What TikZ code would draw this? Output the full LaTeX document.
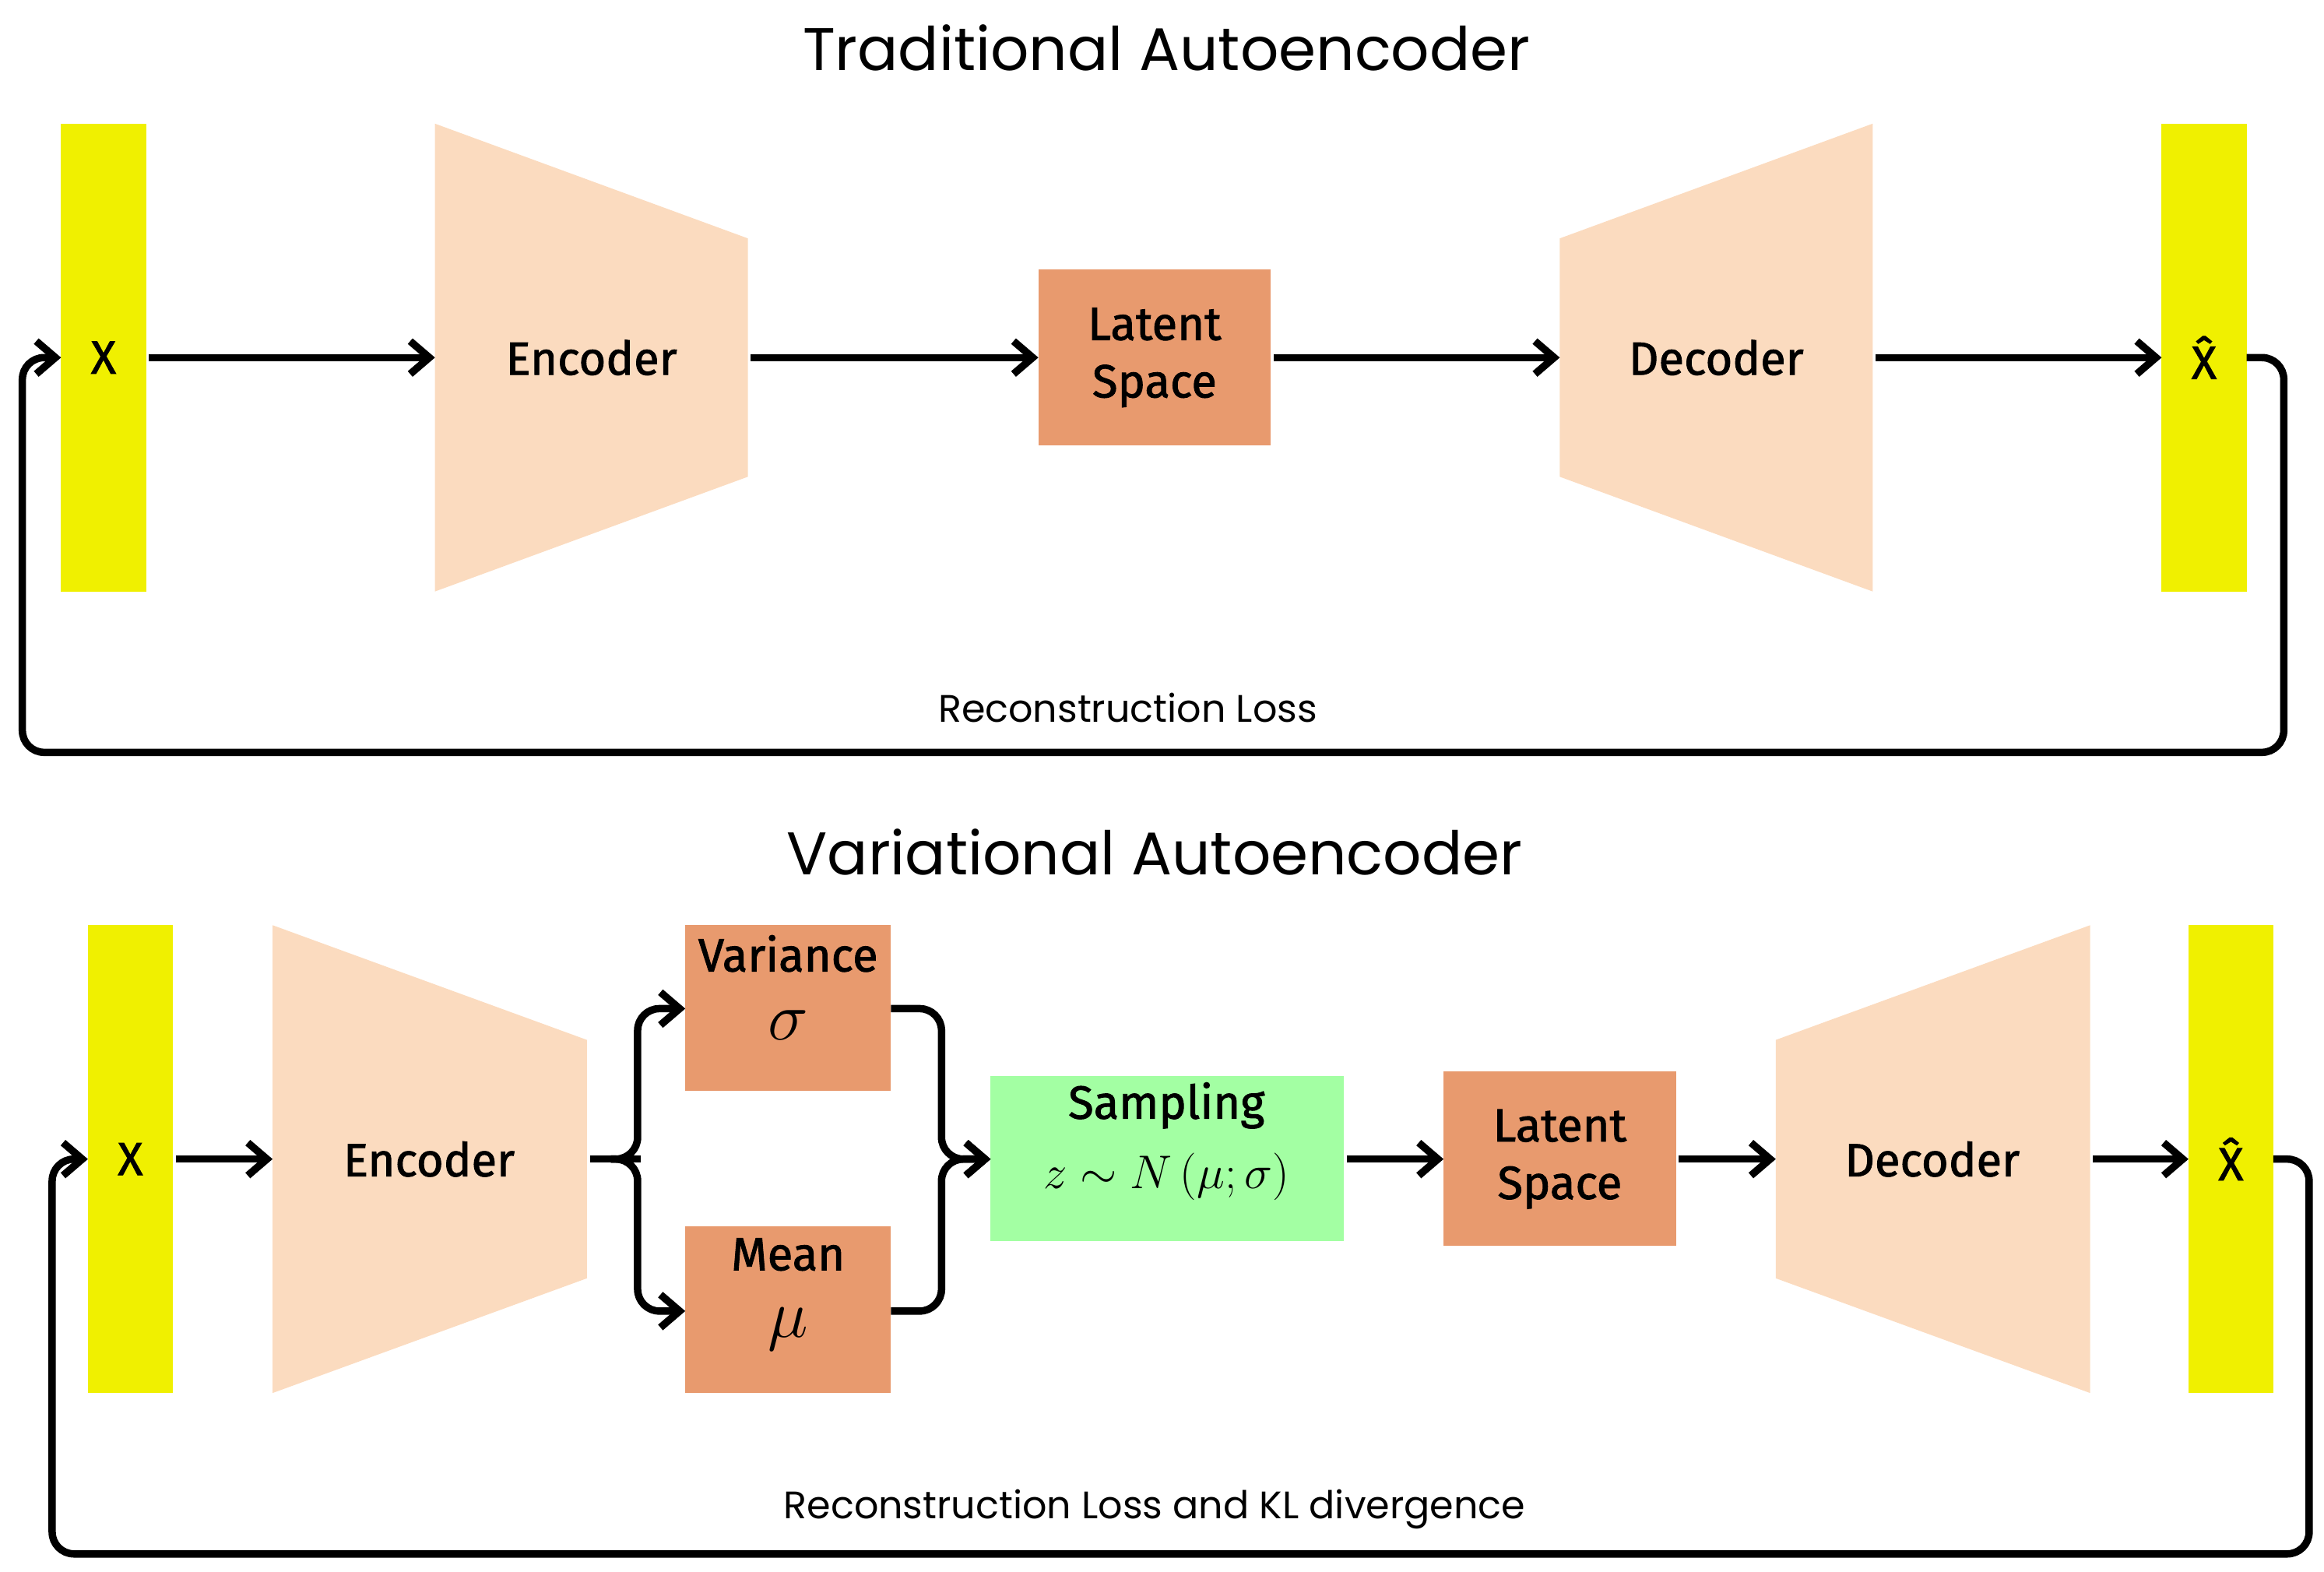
\documentclass[tikz,border=0pt]{standalone}
\usepackage{fontspec}
\setmainfont{Poppins}
\newfontfamily\lblfont{Fira Sans}[FakeBold=1.5]
\usetikzlibrary{arrows.meta}
\definecolor{barcol}{HTML}{F0F000}
\definecolor{trap}{HTML}{FBDBBF}
\definecolor{lat}{HTML}{E89A6E}
\definecolor{samp}{HTML}{A3FFA3}
\begin{document}
\begin{tikzpicture}[x=0.01913cm,y=-0.01913cm,
  lbl/.style={font=\lblfont\fontsize{17}{21}\selectfont},
  ttl/.style={font=\fontsize{22}{26}\selectfont},
  loss/.style={font=\fontsize{14}{16}\selectfont},
  conn/.style={line width=2.7pt,-{Straight Barb[length=7pt,width=12pt,line width=2.7pt]},rounded corners=8pt},
  seg/.style={line width=2.7pt,rounded corners=8pt}]
\useasboundingbox (0,0) rectangle (1560,1055);
% ---- top
\node[ttl] (t1) at (783,32) {Traditional Autoencoder};
\fill[barcol] (41,83) rectangle (98,397);
\node[lbl] (x1) at (69.5,240) {X};
\fill[trap] (292,83) -- (502,160) -- (502,320) -- (292,397) -- cycle;
\node[lbl] (e1) at (397,240) {Encoder};
\fill[lat] (697,181) rectangle (853,299);
\node[lbl,align=center] (l1) at (775,240) {Latent\\Space};
\fill[trap] (1047,160) -- (1257,83) -- (1257,397) -- (1047,320) -- cycle;
\node[lbl] (d1) at (1152,240) {Decoder};
\fill[barcol] (1451,83) rectangle (1508,397);
\node[lbl] (xh1) at (1479.5,240) {\^{X}};
\coordinate (a1) at (100,240); \coordinate (b1) at (292,240);
\coordinate (a2) at (504,240); \coordinate (b2) at (697,240);
\coordinate (a3) at (855,240); \coordinate (b3) at (1047,240);
\coordinate (a4) at (1259,240); \coordinate (b4) at (1451,240);
\draw[conn] (a1) -- (b1);
\draw[conn] (a2) -- (b2);
\draw[conn] (a3) -- (b3);
\draw[conn] (a4) -- (b4);
\coordinate (f1s) at (1508,240); \coordinate (f1e) at (41,240);
\draw[conn] (f1s) -- (1533,240) -- (1533,505) -- (15,505) -- (15,240) -- (f1e);
\node[loss] (rl1) at (757,475) {Reconstruction Loss};
% ---- bottom
\node[ttl] (t2) at (775,572) {Variational Autoencoder};
\fill[barcol] (59,621) rectangle (116,935);
\node[lbl] (x2) at (87.5,778) {X};
\fill[trap] (183,621) -- (394,698) -- (394,858) -- (183,935) -- cycle;
\node[lbl] (e2) at (288,778) {Encoder};
\fill[lat] (460,621) rectangle (598,732);
\node[lbl] (var) at (529,640) {Variance};
\node[font=\fontsize{46}{46}\selectfont] (sig) at (529,688) {$\sigma$};
\fill[lat] (460,823) rectangle (598,935);
\node[lbl] (mean) at (529,842) {Mean};
\node[font=\fontsize{46}{46}\selectfont] (mu) at (529,892) {$\mu$};
\fill[samp] (665,722) rectangle (902,833);
\node[lbl] (sam) at (783,742) {Sampling};
\node[font=\fontsize{18}{21}\selectfont] (eq) at (783,790) {$z\sim N\left(\mu;\sigma\right)$};
\fill[lat] (969,719) rectangle (1125,836);
\node[lbl,align=center] (l2) at (1047,778) {Latent\\Space};
\fill[trap] (1192,698) -- (1403,621) -- (1403,935) -- (1192,858) -- cycle;
\node[lbl] (d2) at (1297,778) {Decoder};
\fill[barcol] (1469,621) rectangle (1526,935);
\node[lbl] (xh2) at (1497.5,778) {\^{X}};
\draw[conn] (118,778) -- (183,778);
\draw[seg] (396,778) -- (430,778);
\draw[conn] (410,778) -- (428,778) -- (428,677) -- (460,677);
\draw[conn] (410,778) -- (428,778) -- (428,880) -- (460,880);
\draw[conn] (598,677) -- (632,677) -- (632,778) -- (665,778);
\draw[conn] (598,880) -- (632,880) -- (632,778) -- (665,778);
\draw[conn] (904,778) -- (969,778);
\draw[conn] (1127,778) -- (1192,778);
\draw[conn] (1405,778) -- (1469,778);
\draw[conn] (1526,778) -- (1550,778) -- (1550,1043) -- (35,1043) -- (35,778) -- (59,778);
\node[loss] (rl2) at (775,1013) {Reconstruction Loss and KL divergence};
\end{tikzpicture}
\end{document}
